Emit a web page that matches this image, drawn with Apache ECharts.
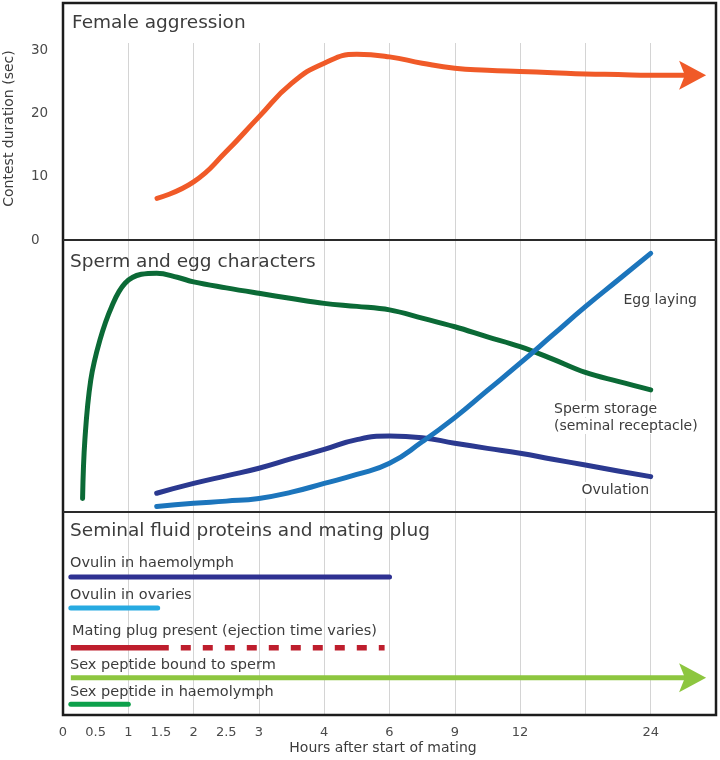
<!DOCTYPE html>
<html><head><meta charset="utf-8">
<script src="https://cdn.jsdelivr.net/npm/echarts@6/dist/echarts.min.js"></script>
<style>html,body{margin:0;padding:0;background:#fff}#c{width:720px;height:760px}</style>
</head><body><div id="c"></div>
<script>
// ---------------- data ----------------
const tickHours = [0, 0.5, 1, 1.5, 2, 2.5, 3, 4, 6, 9, 12, 24];
const tickLabels = ['0', '0.5', '1', '1.5', '2', '2.5', '3', '4', '6', '9', '12', '24'];

const aggressionHours = [1.44, 2, 2.5, 3, 3.5, 4, 5, 6, 7.5, 9, 10.5, 12, 15, 18, 21, 24, 27.85];
const aggressionSec   = [6.6, 9.2, 14.0, 19.5, 24.8, 28.0, 29.4, 29.0, 28.0, 27.2, 26.9, 26.7, 26.5, 26.3, 26.2, 26.1, 26.1];

const spermHours = [0.3, 0.335, 0.425, 0.565, 0.745, 0.95, 1.2, 1.435, 1.75, 2, 2.5, 3, 3.5, 4, 5, 6, 7.5, 9, 10.5, 12, 15, 18, 21, 24];
const spermLevel = [5, 26.5, 48.5, 63.2, 75.5, 84.1, 87.4, 87.8, 86.3, 84.6, 82.4, 80.4, 78.5, 76.7, 75.6, 74.3, 71.3, 68.1, 64.4, 60.8, 56.2, 51.3, 48.0, 44.9];

const eggHours = [1.435, 2, 2.5, 3, 3.5, 4, 5, 6, 7.5, 9, 10.5, 12, 15, 18, 21, 24];
const eggLevel = [2.0, 3.2, 4.0, 5.0, 7.3, 10.5, 13.8, 17.9, 25.8, 34.7, 44.7, 54.7, 65.1, 75.5, 85.3, 95.1];

const ovulationHours = [1.435, 2, 2.5, 3, 3.5, 4, 5, 6, 7.5, 9, 10.5, 12, 15, 18, 21, 24];
const ovulationLevel = [6.9, 10.5, 13.3, 16.1, 19.6, 23.0, 26.6, 27.9, 27.3, 25.3, 23.4, 21.6, 19.4, 17.3, 15.1, 13.0];

const proteinNames = ['Ovulin in haemolymph', 'Ovulin in ovaries', 'Mating plug present (ejection time varies)', 'Sex peptide bound to sperm', 'Sex peptide in haemolymph'];
const proteinStart = [0.12, 0.12, 0.12, 0.12, 0.12];
const proteinEnd   = [6, 1.45, 1.62, 27.85, 1.0];
const plugVariableEnd = 5.85;

// ---------------- axis transform (hours -> axis slot) ----------------
const BREAK_H = [0, 3, 4, 6, 12, 24, 30];
const BREAK_P = [0, 6, 8, 10, 14, 18, 20];
function hourToPos(h) {
  for (let i = 1; i < BREAK_H.length; i++) {
    if (h <= BREAK_H[i]) {
      const t = (h - BREAK_H[i - 1]) / (BREAK_H[i] - BREAK_H[i - 1]);
      return BREAK_P[i - 1] + t * (BREAK_P[i] - BREAK_P[i - 1]);
    }
  }
  return BREAK_P[BREAK_P.length - 1];
}
const pts = (hs, vs) => hs.map((h, i) => [hourToPos(h), vs[i]]);

// ---------------- layout / style ----------------
const FONT = '"DejaVu Sans", "Open Sans", sans-serif';
const TXT = '#3c3c3c';
const GRID_L = 63, GRID_R = 4;
const ROW_Y = [65, 96, 135.7, 165.7, 192.3];
const ROW_LABEL_Y = [563, 595, 631, 665.5, 692.5];
const ROW_LABEL_X = [70, 70, 72, 70, 70];
const ARROW = 'path://M0,0L28,15L0,30L6,15Z';
const C = {
  orange: '#F05A28', green: '#0B6A36', blue: '#1C75BC', navy: '#2B3990',
  navyBar: '#2E3192', lightBlue: '#27AAE1', red: '#BE1E2D', lime: '#8DC63F', green2: '#0DA04B'
};

const xBase = (gridIndex) => ({
  type: 'value', gridIndex, min: 0, max: 20, interval: 2,
  axisLine: { show: false }, axisTick: { show: false }, axisLabel: { show: false },
  splitLine: { show: true, lineStyle: { color: '#d4d4d4', width: 1 } }
});

const chart = echarts.init(document.getElementById('c'), null, { renderer: 'canvas' });

const bottomX = xBase(2);
bottomX.axisLabel = {
  show: true, customValues: tickHours.map(hourToPos), margin: 11,
  color: '#4a4a4a', fontSize: 13, fontFamily: FONT,
  formatter: (v) => {
    const i = tickHours.findIndex(h => Math.abs(hourToPos(h) - v) < 1e-6);
    return i >= 0 ? tickLabels[i] : '';
  }
};
bottomX.name = 'Hours after start of mating';
bottomX.nameLocation = 'middle';
bottomX.nameGap = 26;
bottomX.nameTextStyle = { color: '#3c3c3c', fontSize: 14, fontFamily: FONT, padding: [0, 13, 0, 0] };

const barLine = (i, color, extra) => Object.assign({
  type: 'line', xAxisIndex: 2, yAxisIndex: 2, symbol: 'none', silent: true,
  data: [[hourToPos(proteinStart[i]), ROW_Y[i]], [hourToPos(proteinEnd[i]), ROW_Y[i]]],
  lineStyle: { color, width: 5, cap: 'round' }
}, extra || {});

const arrow = (xIdx, yIdx, point, color) => ({
  type: 'scatter', xAxisIndex: xIdx, yAxisIndex: yIdx, silent: true,
  data: [point], symbol: ARROW, symbolSize: [27, 29],
  itemStyle: { color, opacity: 1 }, z: 3
});

const curve = (hs, vs, color, smooth) => ({
  type: 'line', xAxisIndex: 1, yAxisIndex: 1, smooth, symbol: 'none', silent: true,
  data: pts(hs, vs), lineStyle: { color, width: 5, cap: 'round', join: 'round' }
});

const text = (t, x, y, size, opts) => ({
  type: 'text', z: 50,
  style: Object.assign({ text: t, x, y, fill: TXT, font: `${size}px ${FONT}`, textVerticalAlign: 'middle' }, opts || {})
});

const option = {
  backgroundColor: '#fff',
  animation: false,
  grid: [
    { left: GRID_L, right: GRID_R, top: 43, height: 197, outerBoundsMode: 'none', containLabel: false },
    { left: GRID_L, right: GRID_R, top: 240, height: 272, outerBoundsMode: 'none', containLabel: false },
    { left: GRID_L, right: GRID_R, top: 512, height: 203, outerBoundsMode: 'none', containLabel: false }
  ],
  xAxis: [xBase(0), xBase(1), bottomX],
  yAxis: [
    {
      type: 'value', gridIndex: 0, min: 0, max: 31.2, interval: 10,
      axisLine: { show: false }, axisTick: { show: false }, splitLine: { show: false },
      axisLabel: { align: 'left', margin: 32, color: '#4a4a4a', fontSize: 13.5, fontFamily: FONT,
        formatter: v => (Math.abs(v % 10) < 1e-6 ? String(v) : '') },
      name: 'Contest duration (sec)', nameLocation: 'middle', nameGap: 47, nameRotate: 90,
      nameTextStyle: { color: '#3c3c3c', fontSize: 14, fontFamily: FONT, padding: [0, 0, 0, 26] }
    },
    { type: 'value', gridIndex: 1, min: 0, max: 100, show: false },
    { type: 'value', gridIndex: 2, min: 0, max: 203, inverse: true, show: false }
  ],
  series: [
    { type: 'line', xAxisIndex: 0, yAxisIndex: 0, smooth: 0.5, symbol: 'none', silent: true,
      data: pts(aggressionHours, aggressionSec), lineStyle: { color: C.orange, width: 5, cap: 'round', join: 'round' } },
    arrow(0, 0, [hourToPos(aggressionHours[aggressionHours.length - 1]), aggressionSec[aggressionSec.length - 1]], C.orange),

    curve(spermHours, spermLevel, C.green, 0.4),
    curve(ovulationHours, ovulationLevel, C.navy, 0.5),
    curve(eggHours, eggLevel, C.blue, 0.5),

    barLine(0, C.navyBar),
    barLine(1, C.lightBlue),
    barLine(2, C.red, { lineStyle: { color: C.red, width: 5.5, cap: 'butt' } }),
    { type: 'line', xAxisIndex: 2, yAxisIndex: 2, symbol: 'none', silent: true,
      data: [[hourToPos(proteinEnd[2]), ROW_Y[2]], [hourToPos(plugVariableEnd), ROW_Y[2]]],
      lineStyle: { color: C.red, width: 5.5, type: [10, 12], dashOffset: 10, cap: 'butt' } },
    barLine(3, C.lime, { lineStyle: { color: C.lime, width: 5, cap: 'butt' } }),
    arrow(2, 2, [hourToPos(proteinEnd[3]), ROW_Y[3]], C.lime),
    barLine(4, C.green2)
  ],
  graphic: [
    { type: 'rect', z: 100, shape: { x: 63, y: 3, width: 653, height: 712 }, style: { fill: 'none', stroke: '#1c1c1c', lineWidth: 2.5 } },
    { type: 'line', z: 100, shape: { x1: 63, y1: 240, x2: 716, y2: 240 }, style: { stroke: '#2a2a2a', lineWidth: 2 } },
    { type: 'line', z: 100, shape: { x1: 63, y1: 512, x2: 716, y2: 512 }, style: { stroke: '#2a2a2a', lineWidth: 2 } },

    text('Female aggression', 72, 23, 18.5),
    text('Sperm and egg characters', 70, 262, 18.5),
    text('Seminal fluid proteins and mating plug', 70, 531, 18.5),

    text('Egg laying', 698, 300, 14, { textAlign: 'right', backgroundColor: '#fff', padding: [1, 1] }),
    text('Sperm storage', 553, 409, 14, { backgroundColor: '#fff', padding: [1, 1] }),
    text('(seminal receptacle)', 553, 426, 14, { backgroundColor: '#fff', padding: [1, 1] }),
    text('Ovulation', 650, 490, 14, { textAlign: 'right', backgroundColor: '#fff', padding: [1, 1] }),

    ...proteinNames.map((n, i) => text(n, ROW_LABEL_X[i], ROW_LABEL_Y[i], 14.5))
  ]
};
chart.setOption(option);
</script>
</body></html>
